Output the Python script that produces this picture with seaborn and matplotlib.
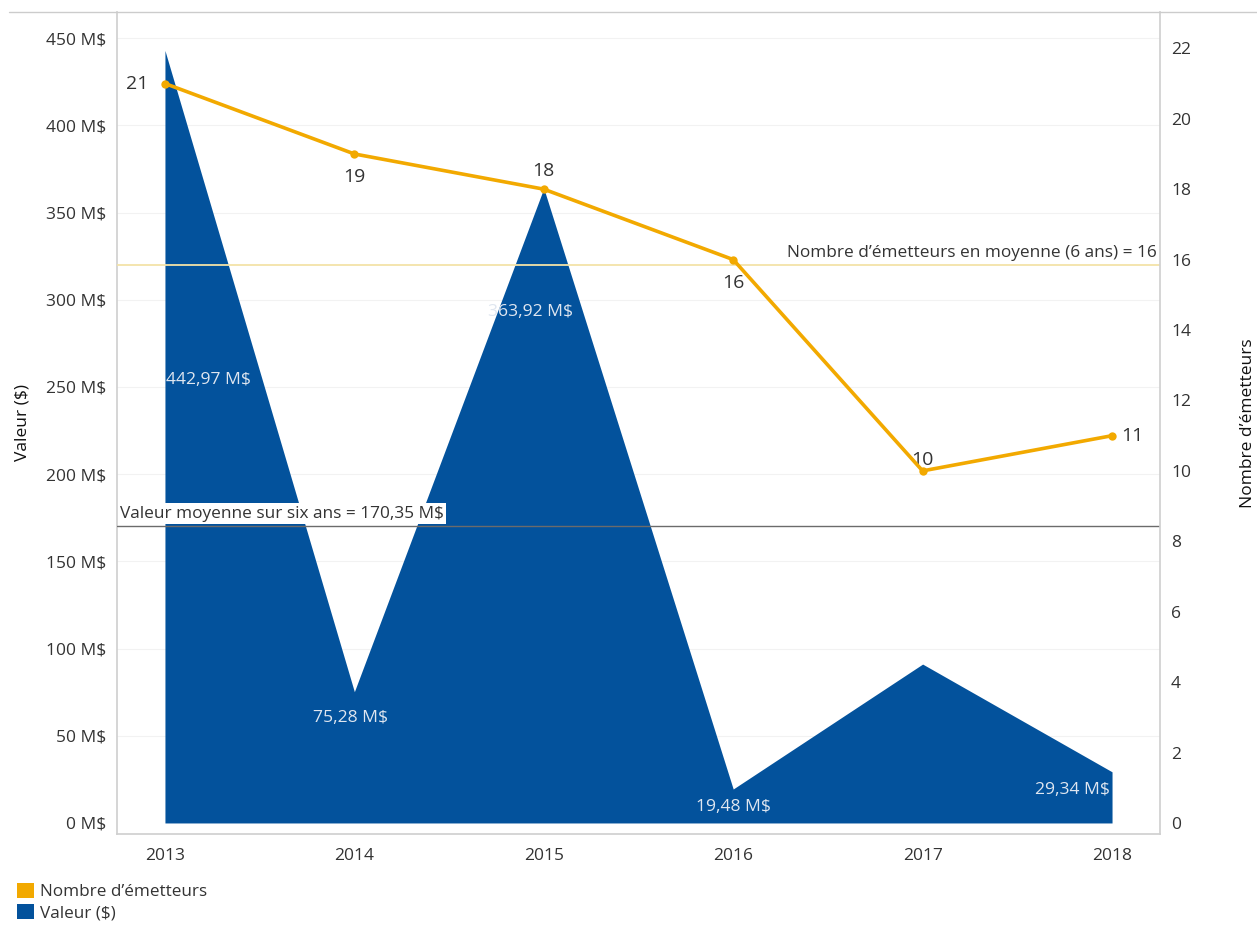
import matplotlib
matplotlib.use("Agg")
import matplotlib.pyplot as plt
from matplotlib.lines import Line2D
from matplotlib.patches import Patch
import seaborn as sns
import pandas as pd

years = [2013, 2014, 2015, 2016, 2017, 2018]
valeur_m = [442.97, 75.28, 363.92, 19.48, 91.11, 29.34]
emetteurs = [21, 19, 18, 16, 10, 11]
valeur_labels = ["442,97 M$", "75,28 M$", "363,92 M$", "19,48 M$", None, "29,34 M$"]
left_ticks = [0, 50, 100, 150, 200, 250, 300, 350, 400, 450]
right_ticks = [0, 2, 4, 6, 8, 10, 12, 14, 16, 18, 20, 22]

BLUE = "#03529C"
ORANGE = "#F2A900"
TEXT = "#333333"

sns.set_theme(style="white")
plt.rcParams["font.family"] = ["Open Sans", "DejaVu Sans"]

df = pd.DataFrame({"annee": years, "valeur": valeur_m, "emetteurs": emetteurs})
moy_valeur = df["valeur"].mean()
moy_emetteurs = df["emetteurs"].mean()

fig = plt.figure(figsize=(12.57, 9.26), dpi=100)
ax = fig.add_axes([0.0931, 0.0994, 0.8297, 0.8876])
ax2 = ax.twinx()

# Area: value per year
ax.fill_between(df["annee"], 0, df["valeur"], color=BLUE, linewidth=0, zorder=2)

ax.set_xlim(2012.747, 2018.253)
ax.set_ylim(-6.3, 465)
ax.set_yticks(left_ticks)
ax.set_yticklabels([f"{t} M$" for t in left_ticks])
ax.set_xticks(years)
ax.set_xticklabels([str(y) for y in years])
for t in left_ticks[1:]:
    ax.axhline(t, color="#f2f2f2", linewidth=0.8, zorder=0)

# Average value line
ax.axhline(moy_valeur, color="#6b6b6b", linewidth=1.0, zorder=3)
moy_txt = f"{moy_valeur:.2f}".replace(".", ",")
ax.text(2012.765, moy_valeur + 2.5, f"Valeur moyenne sur six ans = {moy_txt} M$",
        fontsize=12.4, color=TEXT, ha="left", va="bottom", zorder=6,
        bbox=dict(facecolor="white", edgecolor="none", pad=1.5))

# Value labels
val_offsets = {2013: (0.23, 254), 2014: (-0.02, 60), 2015: (-0.07, 293), 2016: (0.0, 9), 2018: (-0.21, 19)}
for y, v, lab in zip(years, valeur_m, valeur_labels):
    if lab is None:
        continue
    dx, yy = val_offsets[y]
    ax.text(y + dx, yy, lab, color="#dfe6f0", fontsize=12.6, ha="center", va="center", zorder=4)

# Emitters line
sns.lineplot(data=df, x="annee", y="emetteurs", ax=ax2, color=ORANGE, linewidth=2.6,
             marker="o", markersize=6, markeredgewidth=0, zorder=5)
ax2.set_ylim(-0.31, 23.03)
ax2.set_yticks(right_ticks)
ax2.axhline(moy_emetteurs, color="#F3E3A8", linewidth=1.3, zorder=1)
ax2.text(2018.235, moy_emetteurs + 0.12, f"Nombre d\u2019émetteurs en moyenne (6 ans) = {moy_emetteurs:.0f}",
         fontsize=12.4, color=TEXT, ha="right", va="bottom")

em_pos = {2013: (-0.09, 0, "right", "center"),
          2014: (0, -0.4, "center", "top"),
          2015: (0, 0.25, "center", "bottom"),
          2016: (0, -0.4, "center", "top"),
          2017: (0, 0.05, "center", "bottom"),
          2018: (0.05, 0, "left", "center")}
for y, e in zip(years, emetteurs):
    dx, dy, ha, va = em_pos[y]
    ax2.text(y + dx, e + dy, str(e), fontsize=14, color=TEXT, ha=ha, va=va)

for a in (ax, ax2):
    a.set_xlabel("")
    for s in a.spines.values():
        s.set_visible(False)
    a.tick_params(axis="both", length=0, labelsize=12.5, colors=TEXT)
ax.tick_params(axis="y", pad=8)
ax2.tick_params(axis="y", pad=8)
ax.tick_params(axis="x", pad=10)
ax.spines["left"].set_visible(True)
ax.spines["left"].set_color("#d0d0d0")
ax.spines["bottom"].set_visible(True)
ax.spines["bottom"].set_color("#d0d0d0")
ax2.spines["right"].set_visible(True)
ax2.spines["right"].set_color("#d0d0d0")

ax.set_ylabel("Valeur ($)", fontsize=12.5, color="#111111")
ax.yaxis.set_label_coords(-0.083, 0.5)
ax2.set_ylabel("Nombre d\u2019émetteurs", fontsize=12.5, color="#111111", rotation=90)
ax2.yaxis.set_label_coords(1.077, 0.5)

# top separator
fig.add_artist(Line2D([0.007, 1.0], [0.987, 0.987], color="#cccccc", linewidth=1.0))

# Legend
handles = [Patch(facecolor=ORANGE, edgecolor="none", label="Nombre d\u2019émetteurs"),
           Patch(facecolor=BLUE, edgecolor="none", label="Valeur ($)")]
fig.legend(handles=handles, loc="upper left", bbox_to_anchor=(0.008, 0.054), frameon=False,
           fontsize=12.3, handlelength=1.0, handleheight=1.0, handletextpad=0.35,
           labelspacing=0.2, borderaxespad=0, labelcolor=TEXT)

fig.savefig("out.png", dpi=100, facecolor="white")
